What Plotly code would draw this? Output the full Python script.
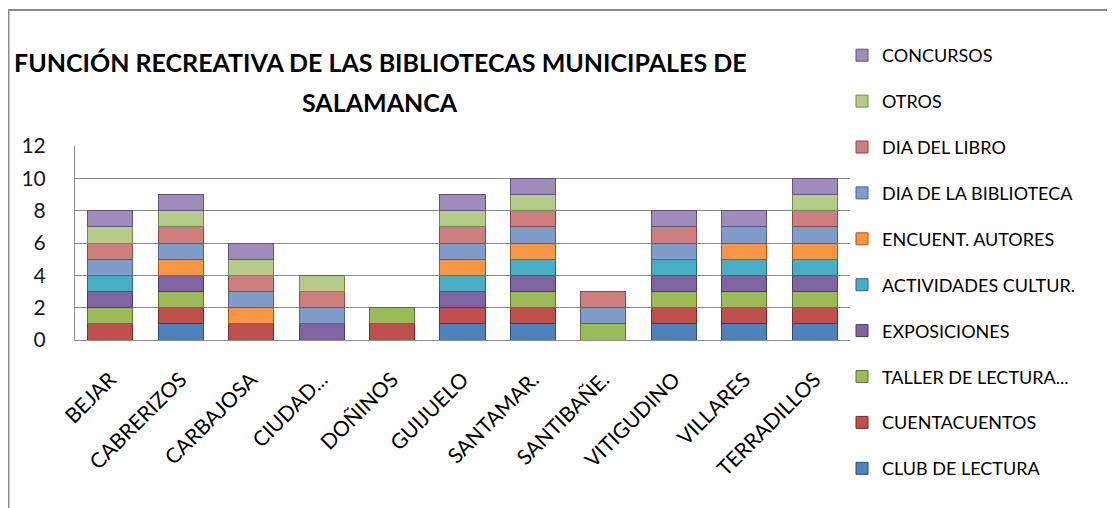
import plotly.graph_objects as go

categories = ["BEJAR", "CABRERIZOS", "CARBAJOSA", "CIUDAD...", "DOÑINOS", "GUIJUELO",
              "SANTAMAR.", "SANTIBAÑE.", "VITIGUDINO", "VILLARES", "TERRADILLOS"]

club_lectura      = [0, 1, 0, 0, 0, 1, 1, 0, 1, 1, 1]
cuentacuentos     = [1, 1, 1, 0, 1, 1, 1, 0, 1, 1, 1]
taller_lectura    = [1, 1, 0, 0, 1, 0, 1, 1, 1, 1, 1]
exposiciones      = [1, 1, 0, 1, 0, 1, 1, 0, 1, 1, 1]
actividades       = [1, 0, 0, 0, 0, 1, 1, 0, 1, 1, 1]
encuent_autores   = [0, 1, 1, 0, 0, 1, 1, 0, 0, 1, 1]
dia_biblioteca    = [1, 1, 1, 1, 0, 1, 1, 1, 1, 1, 1]
dia_libro         = [1, 1, 1, 1, 0, 1, 1, 1, 1, 0, 1]
otros             = [1, 1, 1, 1, 0, 1, 1, 0, 0, 0, 1]
concursos         = [1, 1, 1, 0, 0, 1, 1, 0, 1, 1, 1]

series_names = ["CLUB DE LECTURA", "CUENTACUENTOS", "TALLER DE LECTURA...", "EXPOSICIONES",
                "ACTIVIDADES CULTUR.", "ENCUENT. AUTORES", "DIA DE LA BIBLIOTECA",
                "DIA DEL LIBRO", "OTROS", "CONCURSOS"]
series_values = [club_lectura, cuentacuentos, taller_lectura, exposiciones, actividades,
                 encuent_autores, dia_biblioteca, dia_libro, otros, concursos]
series_colors = ["#4F81BD", "#C0504D", "#9BBB59", "#8064A2", "#4BACC6",
                 "#F79646", "#7F9CCB", "#CD7F7D", "#B5CB8A", "#9E8DBB"]
edge_colors = ["#2C4D75", "#772C2A", "#5F7530", "#4D3B62", "#276A7C",
               "#B65708", "#4A6591", "#8E4A48", "#76894F", "#62547E"]

fig = go.Figure()
n = len(series_names)
for i, (name, vals, col, ec) in enumerate(zip(series_names, series_values, series_colors, edge_colors)):
    fig.add_trace(go.Bar(
        x=categories, y=vals, name=name, legendgroup=f"g{i}", legendrank=n - i,
        marker=dict(color=col, line=dict(color=ec, width=1)),
    ))

font_family = "Lato, 'Open Sans', sans-serif"
# page has an 8px body margin; figure coordinates = screen - 8
FW, FH = 1107, 500
L, R, T, B = 67, 842, 138, 332
W = R - L
H = B - T

fig.update_layout(
    barmode="stack",
    bargap=0.36,
    width=FW, height=FH,
    margin=dict(l=L, r=FW - R, t=T, b=FH - B, autoexpand=False),
    paper_bgcolor="white", plot_bgcolor="white",
    font=dict(family=font_family, color="#000000"),
    showlegend=True,
    legend=dict(
        x=(834 - L) / W, xanchor="left", y=(B - 29) / H, yanchor="top",
        traceorder="grouped", tracegroupgap=19.5,
        font=dict(size=18, family=font_family, color="#000000"),
        bgcolor="rgba(0,0,0,0)", maxheight=490,
    ),
    xaxis=dict(
        tickangle=-45, tickfont=dict(size=21, family=font_family, color="#000000"),
        showline=True, linecolor="#8C8C8C", linewidth=1,
        ticks="", showgrid=False, ticklabelstandoff=18, automargin=False,
    ),
    yaxis=dict(
        range=[0, 12], dtick=2, tick0=0,
        tickfont=dict(size=21, family=font_family, color="#1A1A1A"),
        showline=True, linecolor="#8C8C8C", linewidth=1,
        showgrid=True, gridcolor="#8C8C8C", gridwidth=1,
        zeroline=False, ticks="", ticklabelstandoff=24, automargin=False,
    ),
    annotations=[
        dict(text="<b>FUNCIÓN RECREATIVA DE LAS BIBLIOTECAS MUNICIPALES DE</b>",
             xref="paper", yref="paper", x=(372 - L) / W, y=(B - 54) / H,
             xanchor="center", yanchor="middle", showarrow=False,
             font=dict(size=25, family=font_family, color="#000000")),
        dict(text="<b>SALAMANCA</b>",
             xref="paper", yref="paper", x=(372 - L) / W, y=(B - 94) / H,
             xanchor="center", yanchor="middle", showarrow=False,
             font=dict(size=25, family=font_family, color="#000000")),
    ],
    shapes=[
        dict(type="line", xref="paper", yref="paper",
             x0=(0 - L) / W, x1=(FW - L) / W, y0=(B - 2) / H, y1=(B - 2) / H,
             line=dict(color="#8C8C8C", width=2)),
        dict(type="line", xref="paper", yref="paper",
             x0=(0.5 - L) / W, x1=(0.5 - L) / W, y0=(B - 2) / H, y1=(B - FH) / H,
             line=dict(color="#8C8C8C", width=2)),
    ],
)

fig.write_html("out.html")
